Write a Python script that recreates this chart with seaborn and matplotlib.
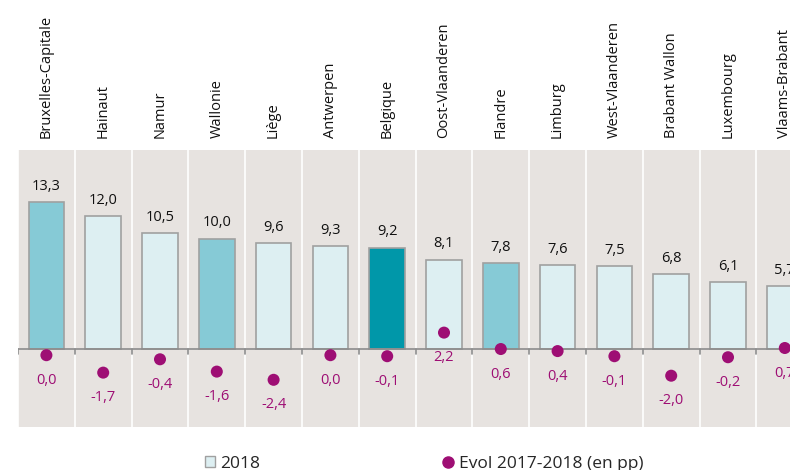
import numpy as np
import pandas as pd
import seaborn as sns
import matplotlib.pyplot as plt
from matplotlib.lines import Line2D
from matplotlib.patches import Patch

categories = ["Bruxelles-Capitale", "Hainaut", "Namur", "Wallonie", "Liège",
              "Antwerpen", "Belgique", "Oost-Vlaanderen", "Flandre", "Limburg",
              "West-Vlaanderen", "Brabant Wallon", "Luxembourg", "Vlaams-Brabant"]
rate_2018 = [13.3, 12.0, 10.5, 10.0, 9.6, 9.3, 9.2, 8.1, 7.8, 7.6, 7.5, 6.8, 6.1, 5.7]
evol_pp = [0.0, -1.7, -0.4, -1.6, -2.4, 0.0, -0.1, 2.2, 0.6, 0.4, -0.1, -2.0, -0.2, 0.7]
level = ["region", "prov", "prov", "region", "prov", "prov", "pays", "prov",
         "region", "prov", "prov", "prov", "prov", "prov"]

light = "#DDEFF2"
mid = "#86CAD6"
dark = "#0097A9"
purple = "#9E0E74"
bg = "#E7E3E0"
colour_of = {"prov": light, "region": mid, "pays": dark}

df = pd.DataFrame({"cat": categories, "val": rate_2018, "evol": evol_pp, "level": level})
df["x"] = np.arange(len(df))

sns.set_style("white")
plt.rcParams["font.family"] = ["Open Sans", "DejaVu Sans"]

fig = plt.figure(figsize=(7.9, 4.7), dpi=100)
n = len(categories)
cw = 56.8
ax = fig.add_axes([18 / 790, (470 - 427) / 470, n * cw / 790, 277 / 470])
ax.set_facecolor(bg)

sns.barplot(data=df, x="cat", y="val", hue="cat",
            palette=[colour_of[l] for l in level], legend=False,
            width=0.63, edgecolor="#A0A0A0", linewidth=1.2, saturation=1, ax=ax)
ax.set_ylim(-7, 18)
ax.set_xlim(-0.5, n - 0.5)

for i, v in enumerate(rate_2018):
    ax.annotate(f"{v:.1f}".replace(".", ","), (i, v), xytext=(0, 6),
                textcoords="offset points", ha="center", va="bottom",
                fontsize=10.5, color="#111111")

# separators and zero line
ax.set_xticks(np.arange(n + 1) - 0.5, minor=True)
ax.grid(which="minor", axis="x", color="white", lw=1.2)
ax.set_axisbelow(True)
ax.axhline(0, color="#8C8C8C", lw=1.2, zorder=3)
for b in np.arange(n + 1) - 0.5:
    ax.plot([b, b], [0, -0.4], color="#8C8C8C", lw=1.2, zorder=3)

ax.tick_params(axis="x", which="both", length=0, labeltop=True, labelbottom=False,
               rotation=90, labelsize=10.5, pad=9, colors="#111111")
ax.set_xlabel("")
ax.set_ylabel("")
ax.set_yticks([])
for s in ax.spines.values():
    s.set_visible(False)

ax2 = ax.twinx()
sns.scatterplot(data=df, x="x", y="evol", color=purple, s=75, edgecolor="none",
                ax=ax2, zorder=5, clip_on=False)
ax2.set_ylim(-7, 20)
ax2.set_xlim(-0.5, n - 0.5)
for i, e in enumerate(evol_pp):
    ax2.annotate(f"{e:.1f}".replace(".", ","), (i, e), xytext=(0, -18),
                 textcoords="offset points", ha="center", va="center",
                 fontsize=10.5, color=purple)
ax2.set_yticks([])
ax2.set_xlabel("")
ax2.set_ylabel("")
for s in ax2.spines.values():
    s.set_visible(False)

handles = [Patch(facecolor=light, edgecolor="#A0A0A0", label="2018"),
           Line2D([], [], marker="o", ls="", color=purple, markersize=8,
                  label="Evol 2017-2018 (en pp)")]
fig.legend(handles=handles, loc="center", bbox_to_anchor=(424 / 790, 6 / 470),
           ncol=2, frameon=False, fontsize=12.5, columnspacing=10.5,
           handlelength=0.6, handleheight=0.6, handletextpad=0.3)

fig.savefig("out.png", dpi=100)
